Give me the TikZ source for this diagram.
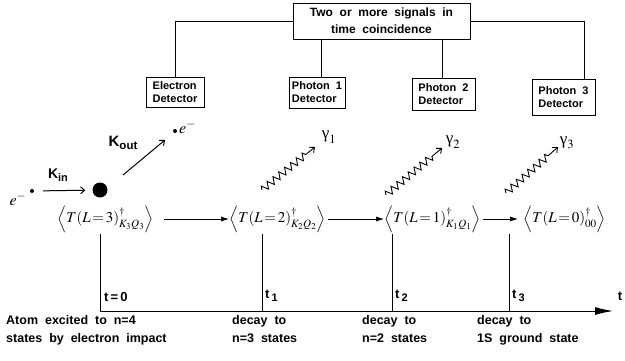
\documentclass[tikz,border=0pt]{standalone}
\usepackage{mathptmx}
\usepackage{fontspec}
\newfontfamily\hv{Liberation Sans}[WordSpace=2]
\newfontfamily\lserif{Liberation Serif}
\usetikzlibrary{arrows.meta,decorations.pathmorphing}
\tikzset{
  conn/.style={line width=1pt},
  det/.style={draw, line width=1pt, font=\hv\bfseries\fontsize{11}{13}\selectfont, align=left, inner sep=2pt},
  st/.style={inner sep=0pt, font=\fontsize{15}{17}\selectfont},
  sarr/.style={-{Latex[length=8pt,width=5pt]}, line width=0.7pt},
  karr/.style={-{Straight Barb[length=4pt,width=7pt]}, line width=1pt},
  wavy/.style={line width=0.9pt, decorate, decoration={zigzag, segment length=7.5pt, amplitude=3.5pt, post length=10pt}, -{Straight Barb[length=4pt,width=7pt]}},
  axis/.style={line width=1pt, -{Latex[length=18pt,width=8pt]}},
  tick/.style={line width=1pt},
  lab/.style={font=\hv\bfseries\fontsize{13}{18}\selectfont, inner sep=0pt},
  bot/.style={font=\hv\bfseries\fontsize{12.5}{18}\selectfont, align=left, inner sep=0pt, anchor=north west},
  gam/.style={font=\fontsize{17}{17}\selectfont, inner sep=0pt},
  dot/.style={circle, fill, inner sep=0pt, minimum size=4pt}
}
\begin{document}
\begin{tikzpicture}[x=1pt, y=-1pt]
\useasboundingbox (0,0) rectangle (625,360);
\fill[white] (0,0) rectangle (625,360);

% coincidence box and detectors
\node[draw, line width=1pt, align=center, minimum width=177pt, minimum height=36pt, inner sep=2pt,
      font=\hv\bfseries\fontsize{12}{17}\selectfont] (coinc) at (381.5,21) {Two or more signals in\\time coincidence};
\node[det, minimum width=58pt, minimum height=30pt] (edet) at (175,92) {Electron\\Detector};
\node[det, minimum width=56pt, minimum height=31pt] (p1) at (317,92.5) {Photon 1\\Detector};
\node[det, minimum width=63pt, minimum height=32pt] (p2) at (443.5,94) {Photon 2\\Detector};
\node[det, minimum width=63pt, minimum height=36pt] (p3) at (563.5,97) {Photon 3\\Detector};

\draw[conn] (coinc.west) -| (edet.north);
\draw[conn] ([xshift=4pt]p1.north) -- ([xshift=4pt]p1.north |- coinc.south);
\draw[conn] ([xshift=-1.5pt]p2.north) -- ([xshift=-1.5pt]p2.north |- coinc.south);
\draw[conn] (coinc.east) -| ([xshift=20.5pt]p3.north);

% incoming / outgoing electron
\node[font=\fontsize{16}{16}\selectfont, inner sep=0pt] (ein) at (18,199) {$e^-$};
\node[dot] (d1) at (32,191) {};
\node[circle, fill, inner sep=0pt, minimum size=15pt] (atom) at (100,190) {};
\draw[karr, shorten <=9pt, shorten >=7pt] (d1) -- (atom);
\node[font=\hv\bfseries, inner sep=0pt] (kin) at (58,175) {\fontsize{14}{14}\selectfont K\raisebox{-3pt}{\fontsize{11}{11}\selectfont in}};
\coordinate (ko1) at (123,175);
\coordinate (ko2) at (165,140);
\draw[karr] (ko1) -- (ko2);
\node[font=\hv\bfseries, inner sep=0pt] (kout) at (123,143) {\fontsize{15}{15}\selectfont K\raisebox{-3pt}{\fontsize{11.5}{11.5}\selectfont out}};
\node[dot, minimum size=4pt] (d2) at (175,131) {};
\node[font=\fontsize{16}{16}\selectfont, inner sep=0pt, anchor=west] (eout) at (179,127) {$e^-$};

% states
\node[st, anchor=west] (s3) at (57,219) {$\Bigl\langle T(L\,{=}\,3)^{\dagger}_{K_3Q_3}\Bigr\rangle$};
\node[st, anchor=west] (s2) at (229,219) {$\Bigl\langle T(L\,{=}\,2)^{\dagger}_{K_2Q_2}\Bigr\rangle$};
\node[st, anchor=west] (s1) at (384,219) {$\Bigl\langle T(L\,{=}\,1)^{\dagger}_{K_1Q_1}\Bigr\rangle$};
\node[st, anchor=west] (s0) at (523,219) {$\Bigl\langle T(L\,{=}\,0)^{\dagger}_{00}\Bigr\rangle$};
\draw[sarr, shorten <=10pt] (s3.east) -- (s2.west);
\draw[sarr, shorten <=2pt] (s2.east) -- (s1.west);
\draw[sarr, shorten <=2pt, shorten >=5pt] (s1.east) -- (s0.west);

% photons
\coordinate (g1a) at (262,190); \coordinate (g1b) at (315,147);
\coordinate (g2a) at (386,195); \coordinate (g2b) at (442,148);
\coordinate (g3a) at (506,193); \coordinate (g3b) at (558,147);
\draw[wavy] (g1a) -- (g1b);
\draw[wavy] (g2a) -- (g2b);
\draw[wavy] (g3a) -- (g3b);
\node[gam] (gl1) at (329,137) {$\mbox{\lserif γ}_1$};
\node[gam] (gl2) at (453,142) {$\mbox{\lserif γ}_2$};
\node[gam] (gl3) at (567,143) {$\mbox{\lserif γ}_3$};

% time axis
\coordinate (v0) at (100,234); \coordinate (v1) at (262,234);
\coordinate (v2) at (392,234); \coordinate (v3) at (509,234);
\coordinate (a0) at (100,311); \coordinate (aend) at (613,311);
\draw[tick] (v0) -- (v0 |- a0);
\draw[tick] (v1) -- (v1 |- a0);
\draw[tick] (v2) -- (v2 |- a0);
\draw[tick] (v3) -- (v3 |- a0);
\draw[axis] (a0) -- (aend);
\node[lab, anchor=west] (t0) at (104,297) {t\,=\,0};
\node[lab, anchor=west] (t1) at (265,296) {t\,\raisebox{-3.5pt}{\fontsize{11}{11}\selectfont 1}};
\node[lab, anchor=west] (t2) at (395,296) {t\,\raisebox{-3.5pt}{\fontsize{11}{11}\selectfont 2}};
\node[lab, anchor=west] (t3) at (512,296) {t\,\raisebox{-3.5pt}{\fontsize{11}{11}\selectfont 3}};
\node[lab] (tax) at (620,296) {t};

% descriptions
\node[bot] (b0) at (6,315) {Atom excited to n=4\\states by electron impact};
\node[bot] (b1) at (232,315) {decay to\\n=3 states};
\node[bot] (b2) at (362,315) {decay to\\n=2 states};
\node[bot] (b3) at (477,315) {decay to\\1S ground state};
\end{tikzpicture}
\end{document}
